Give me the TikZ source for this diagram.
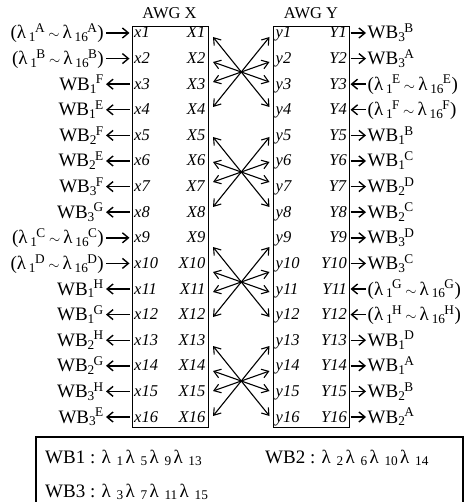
\documentclass[tikz,border=0pt]{standalone}
\usepackage{fontspec}
\setmainfont{Liberation Serif}
\usetikzlibrary{arrows.meta}
\newcommand\sbsp[2]{\textsubscript{#1}\kern-0.06em\textsuperscript{#2}}
\newcommand\smsim{\,{\fontsize{15}{15}\selectfont$\sim$}\,}
\newcommand\lrange[1]{(λ\kern0.15em\sbsp{1}{#1}\smsim λ\kern0.15em\sbsp{16}{#1})}
\newcommand\wbl[2]{WB\sbsp{#1}{#2}}
\newcommand\lamsub[1]{λ\kern0.3em\textsubscript{#1}\kern0.1em}
\begin{document}
\begin{tikzpicture}[x=1pt,y=-1pt,
  font=\fontsize{16.5}{18}\selectfont,
  txt/.style={inner sep=0pt},
  lbl/.style={inner sep=0pt,font=\fontsize{19}{21}\selectfont},
  arr/.style={line width=1.4pt,-{Straight Barb[length=6pt,width=10pt]}},
  arl/.style={line width=1.4pt,{Straight Barb[length=6pt,width=10pt]}-},
  xarr/.style={line width=1.1pt,{Straight Barb[length=6.5pt,width=9pt]}-{Straight Barb[length=6.5pt,width=9pt]}},
  awgbox/.style={draw,line width=1.2pt,inner sep=0pt,minimum width=76pt,minimum height=401pt,anchor=north west}]
\useasboundingbox (0,0) rectangle (466,502);
% boxes
\node[awgbox] (awgx) at (131.5,26) {};
\node[awgbox] (awgy) at (273,26) {};
\node[txt] (tx) at (169.5,13) {AWG X};
\node[txt] (ty) at (311,13) {AWG Y};
% left labels
\foreach \i/\t/\d in {1/{\lrange{A}}/arr,2/{\lrange{B}}/arr,3/{\wbl{1}{F}}/arl,4/{\wbl{1}{E}}/arl,
  5/{\wbl{2}{F}}/arl,6/{\wbl{2}{E}}/arl,7/{\wbl{3}{F}}/arl,8/{\wbl{3}{G}}/arl,
  9/{\lrange{C}}/arr,10/{\lrange{D}}/arr,11/{\wbl{1}{H}}/arl,12/{\wbl{1}{G}}/arl,
  13/{\wbl{2}{H}}/arl,14/{\wbl{2}{G}}/arl,15/{\wbl{3}{H}}/arl,16/{\wbl{3}{E}}/arl}{
  \pgfmathsetmacro\yy{33+25.6*(\i-1)}
  \node[lbl,anchor=base east] (ll\i) at (104,\yy+6) {\t};
  \coordinate (la\i) at (106,\yy);
  \coordinate (lb\i) at (129.5,\yy);
  \draw[\d] (la\i) -- (lb\i);
  \node[txt,anchor=base west] (xi\i) at (134,\yy+5) {\textit{x\i}};
  \node[txt,anchor=base east] (Xi\i) at (205.5,\yy+5) {\textit{X\i}};
  \node[txt,anchor=base west] (yi\i) at (275.5,\yy+5) {\textit{y\i}};
  \node[txt,anchor=base east] (Yi\i) at (347,\yy+5) {\textit{Y\i}};
}
% right labels
\foreach \i/\t/\d in {1/{\wbl{3}{B}}/arr,2/{\wbl{3}{A}}/arr,3/{\lrange{E}}/arl,4/{\lrange{F}}/arl,
  5/{\wbl{1}{B}}/arr,6/{\wbl{1}{C}}/arr,7/{\wbl{2}{D}}/arr,8/{\wbl{2}{C}}/arr,
  9/{\wbl{3}{D}}/arr,10/{\wbl{3}{C}}/arr,11/{\lrange{G}}/arl,12/{\lrange{H}}/arl,
  13/{\wbl{1}{D}}/arr,14/{\wbl{1}{A}}/arr,15/{\wbl{2}{B}}/arr,16/{\wbl{2}{A}}/arr}{
  \pgfmathsetmacro\yy{33+25.6*(\i-1)}
  \coordinate (ra\i) at (350.5,\yy);
  \coordinate (rb\i) at (366,\yy);
  \draw[\d] (ra\i) -- (rb\i);
  \node[lbl,anchor=base west] (rl\i) at (367.5,\yy+6) {\t};
}
% crossing arrows
\foreach \c [count=\k] in {72,172,282,381}{
  \coordinate (p\k a) at (213,\c-35);
  \coordinate (p\k b) at (213,\c-10);
  \coordinate (p\k c) at (213,\c+10);
  \coordinate (p\k d) at (213,\c+35);
  \coordinate (q\k a) at (269.5,\c-35);
  \coordinate (q\k b) at (269.5,\c-10);
  \coordinate (q\k c) at (269.5,\c+10);
  \coordinate (q\k d) at (269.5,\c+35);
  \draw[xarr] (p\k a) -- (q\k d);
  \draw[xarr] (p\k b) -- (q\k c);
  \draw[xarr] (p\k c) -- (q\k b);
  \draw[xarr] (p\k d) -- (q\k a);
}
% legend box
\coordinate (lg1) at (36,506);
\coordinate (lg2) at (36,437);
\coordinate (lg3) at (463,437);
\coordinate (lg4) at (463,506);
\draw[line width=1.2pt] (lg1) -- (lg2) -- (lg3) -- (lg4);
\node[lbl,anchor=base west] (wb1) at (45,463) {WB1 : \lamsub{1}\lamsub{5}\lamsub{9}\lamsub{13}};
\node[lbl,anchor=base west] (wb2) at (265,463) {WB2 : \lamsub{2}\lamsub{6}\lamsub{10}\lamsub{14}};
\node[lbl,anchor=base west] (wb3) at (45,497) {WB3 : \lamsub{3}\lamsub{7}\lamsub{11}\lamsub{15}};
\end{tikzpicture}
\end{document}
